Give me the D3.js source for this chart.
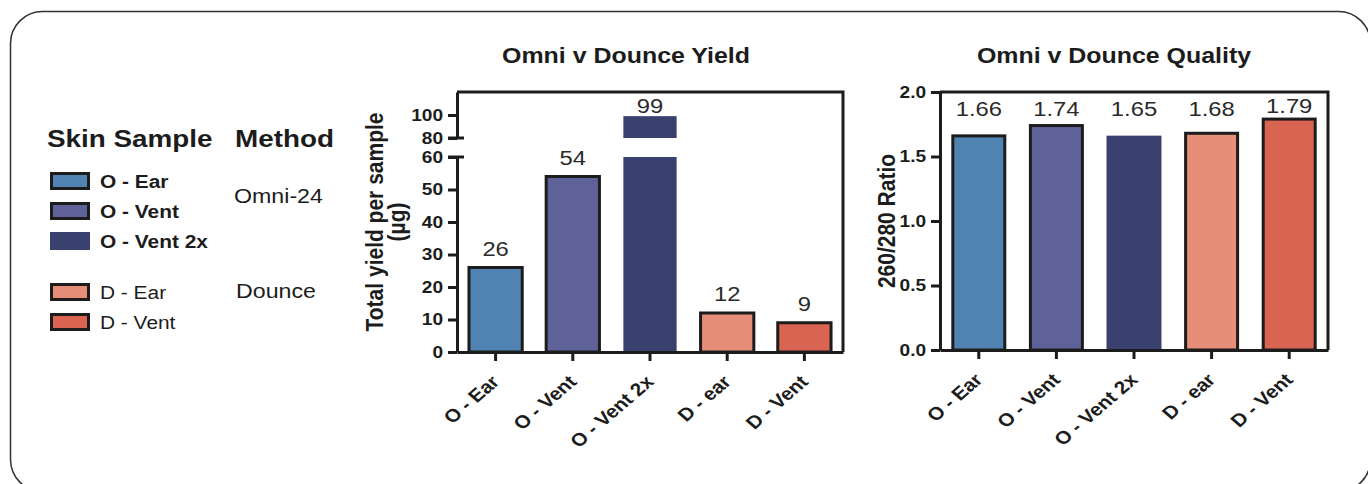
<!DOCTYPE html>
<html>
<head>
<meta charset="utf-8">
<script src="https://cdn.jsdelivr.net/npm/d3@7.9.0/dist/d3.min.js"></script>
<style>
  body { margin: 0; background: #fff; }
  svg { display: block; font-family: "Liberation Sans", Arial, sans-serif; }
  .axis path, .axis line { stroke: #1c1c1c; stroke-width: 3; }
  .axis text { font-size: 16.5px; font-weight: bold; fill: #1c1c1c; }
  .axis.xax text { font-size: 18px; }
</style>
</head>
<body>
<svg id="chart" width="1368" height="484"></svg>
<script>
// data
const categories = ['O - Ear', 'O - Vent', 'O - Vent 2x', 'D - ear', 'D - Vent'];
const legendLabels = ['O - Ear', 'O - Vent', 'O - Vent 2x', 'D - Ear', 'D - Vent'];
const legendBold = [true, true, true, false, false];
const methods = ['Omni-24', 'Dounce'];
const yieldValues = [26, 54, 99, 12, 9];
const ratioValues = [1.66, 1.74, 1.65, 1.68, 1.79];
const barColors = ['#5083b1', '#5f6299', '#3a416f', '#e68e78', '#d96452'];
const outlined = [true, true, false, true, true];
const yieldLowTicks = [0, 10, 20, 30, 40, 50, 60];
const yieldHighTicks = [80, 100];
const ratioTicks = [0, 0.5, 1.0, 1.5, 2.0];

const SX = 1.16; // the source figure is stretched sideways a bit
const ink = '#1c1c1c';

const svg = d3.select('#chart');

// rounded frame around everything
svg.append('rect')
  .attr('x', 10.5).attr('y', 11.5)
  .attr('width', 1360).attr('height', 480)
  .attr('rx', 32)
  .attr('fill', 'none').attr('stroke', '#333').attr('stroke-width', 1.5);

function stext(g, x, y, str, size, weight, extra) {
  return g.append('text')
    .attr('transform', `translate(${x},${y}) scale(${SX},1)` + (extra || ''))
    .attr('font-size', size)
    .attr('font-weight', weight)
    .attr('fill', ink)
    .text(str);
}

// ---------- legend ----------
let legend = svg.append('g');
stext(legend, 47, 147, 'Skin Sample', 24, 'bold');
stext(legend, 235, 147, 'Method', 24, 'bold');

let rowY = [181, 211, 241, 292, 322];
legendLabels.forEach((lab, i) => {
  legend.append('rect')
    .attr('x', 51.5).attr('y', rowY[i] - 7.5)
    .attr('width', 37).attr('height', 15)
    .attr('fill', barColors[i])
    .attr('stroke', outlined[i] ? ink : barColors[i])
    .attr('stroke-width', 3);
  stext(legend, 100, rowY[i] + 6.5, lab, 18, legendBold[i] ? 'bold' : 'normal');
});
stext(legend, 234, 203, methods[0], 20, 'normal');
stext(legend, 236, 298, methods[1], 20, 'normal');

// ---------- chart 1 : yield with broken axis ----------
let c1 = { left: 457, right: 843, top: 92, bottom: 352 };
let x1 = d3.scaleBand().domain(categories).range([c1.left, c1.right])
  .paddingInner(0.31).paddingOuter(0.155);
let yLow = d3.scaleLinear().domain([0, 60]).range([c1.bottom, 157]);
let yHigh = d3.scaleLinear().domain([80, 120]).range([138, c1.top]);

let g1 = svg.append('g');

yieldValues.forEach((v, i) => {
  let x = x1(categories[i]);
  let low = Math.min(v, 60);
  g1.append('rect')
    .attr('x', x).attr('width', x1.bandwidth())
    .attr('y', yLow(low)).attr('height', yLow(0) - yLow(low))
    .attr('fill', barColors[i])
    .attr('stroke', outlined[i] ? ink : 'none').attr('stroke-width', 3);
  if (v > 80) {
    g1.append('rect')
      .attr('x', x).attr('width', x1.bandwidth())
      .attr('y', yHigh(v)).attr('height', yHigh(80) - yHigh(v))
      .attr('fill', barColors[i])
      .attr('stroke', outlined[i] ? ink : 'none').attr('stroke-width', 3);
  }
  let top = v > 80 ? yHigh(v) : yLow(v);
  stext(g1, x + x1.bandwidth() / 2, Math.max(top - 12, c1.top + 21), v, 20.5, 'normal')
    .attr('text-anchor', 'middle').attr('fill', '#2a2a2a');
});

// frame lines
g1.append('path')
  .attr('d', `M${c1.left},${c1.top}H${c1.right}V${c1.bottom}`)
  .attr('fill', 'none').attr('stroke', ink).attr('stroke-width', 3);

let axLow = g1.append('g').attr('class', 'axis')
  .attr('transform', `translate(${c1.left},0)`)
  .call(d3.axisLeft(yLow).tickValues(yieldLowTicks).tickSize(9).tickPadding(3).tickSizeOuter(0));
let axHigh = g1.append('g').attr('class', 'axis')
  .attr('transform', `translate(${c1.left},0)`)
  .call(d3.axisLeft(yHigh).tickValues(yieldHighTicks).tickSize(9).tickPadding(3).tickSizeOuter(0));
// T caps at the break
g1.append('line').attr('x1', c1.left - 9).attr('x2', c1.left + 7)
  .attr('y1', yLow(60)).attr('y2', yLow(60)).attr('stroke', ink).attr('stroke-width', 3);
g1.append('line').attr('x1', c1.left - 9).attr('x2', c1.left + 7)
  .attr('y1', yHigh(80)).attr('y2', yHigh(80)).attr('stroke', ink).attr('stroke-width', 3);

let axX1 = g1.append('g').attr('class', 'axis xax')
  .attr('transform', `translate(0,${c1.bottom})`)
  .call(d3.axisBottom(x1).tickSize(9).tickSizeOuter(0));

// y label
stext(g1, 383, 222, 'Total yield per sample', 21, 'bold', ' rotate(-90)').attr('text-anchor', 'middle');
stext(g1, 405, 222, '(µg)', 21, 'bold', ' rotate(-90)').attr('text-anchor', 'middle');
// title
stext(g1, 626, 63, 'Omni v Dounce Yield', 21.5, 'bold').attr('text-anchor', 'middle');

// ---------- chart 2 : quality ----------
let c2 = { left: 940, right: 1328, top: 92, bottom: 350 };
let x2 = d3.scaleBand().domain(categories).range([c2.left, c2.right])
  .paddingInner(0.33).paddingOuter(0.165);
let y2 = d3.scaleLinear().domain([0, 2]).range([c2.bottom, c2.top]);

let g2 = svg.append('g');
ratioValues.forEach((v, i) => {
  let x = x2(categories[i]);
  g2.append('rect')
    .attr('x', x).attr('width', x2.bandwidth())
    .attr('y', y2(v)).attr('height', y2(0) - y2(v))
    .attr('fill', barColors[i])
    .attr('stroke', outlined[i] ? ink : barColors[i]).attr('stroke-width', 3);
  stext(g2, x + x2.bandwidth() / 2, Math.min(y2(v) - 6, c2.top + 24), d3.format('.2f')(v), 20.5, 'normal')
    .attr('text-anchor', 'middle').attr('fill', '#2a2a2a');
});

g2.append('path')
  .attr('d', `M${c2.left},${c2.top}H${c2.right}V${c2.bottom}`)
  .attr('fill', 'none').attr('stroke', ink).attr('stroke-width', 3);

let axY2 = g2.append('g').attr('class', 'axis')
  .attr('transform', `translate(${c2.left},0)`)
  .call(d3.axisLeft(y2).tickValues(ratioTicks).tickFormat(d3.format('.1f')).tickSize(9).tickPadding(3).tickSizeOuter(0));
let axX2 = g2.append('g').attr('class', 'axis xax')
  .attr('transform', `translate(0,${c2.bottom})`)
  .call(d3.axisBottom(x2).tickSize(9).tickSizeOuter(0));

stext(g2, 895, 221, '260/280 Ratio', 21, 'bold', ' rotate(-90)').attr('text-anchor', 'middle');
stext(g2, 1114, 63, 'Omni v Dounce Quality', 21.5, 'bold').attr('text-anchor', 'middle');

// stretch the tick labels like the rest of the text
[axLow, axHigh, axY2].forEach(ax => {
  ax.selectAll('text').attr('transform', `scale(${SX},1)`);
});
[axX1, axX2].forEach(ax => {
  ax.selectAll('text')
    .attr('x', 0).attr('y', 0).attr('dy', 0)
    .attr('text-anchor', 'end')
    .attr('transform', `translate(5,31) scale(${SX},1) rotate(-45)`);
});
</script>
</body>
</html>
